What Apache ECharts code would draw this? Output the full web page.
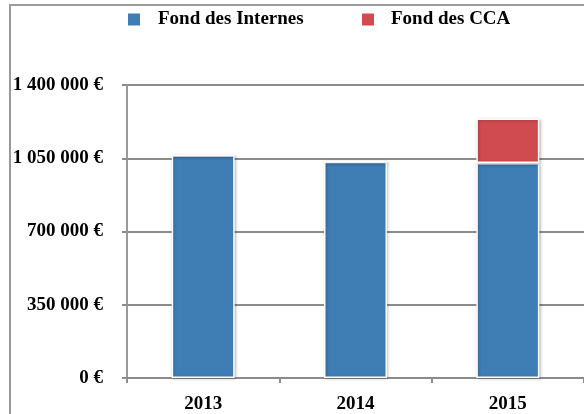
<!DOCTYPE html>
<html>
<head>
<meta charset="utf-8">
<script src="https://cdn.jsdelivr.net/npm/echarts@6/dist/echarts.min.js"></script>
<style>
html,body{margin:0;padding:0;background:#fff;}
#chart{width:584px;height:414px;}
</style>
</head>
<body>
<div id="chart"></div>
<script>
const categories = ['2013', '2014', '2015'];
const fondInternes = [1064000, 1033000, 1027000];
const fondCCA = [0, 0, 213000];
const seriesNames = ['Fond des Internes', 'Fond des CCA'];
const yTicks = [0, 350000, 700000, 1050000, 1400000];

function fmt(v) {
  return String(v).replace(/\B(?=(\d{3})+(?!\d))/g, ' ') + ' €';
}

const font = 'Liberation Serif, Times New Roman, serif';
const fs = 19;
const chart = echarts.init(document.getElementById('chart'), null, {renderer: 'canvas'});
const barStyle = (c) => ({
  color: c,
  borderColor: '#ffffff',
  borderWidth: 1.5,
  shadowBlur: 3,
  shadowOffsetX: 1,
  shadowOffsetY: 1,
  shadowColor: 'rgba(0,0,0,0.25)'
});
chart.setOption({
  animation: false,
  backgroundColor: '#fff',
  graphic: [{
    type: 'rect',
    shape: {x: 10, y: 5, width: 620, height: 460},
    style: {fill: 'none', stroke: '#9a9a9a', lineWidth: 2},
    silent: true
  }],
  legend: [{
    data: [seriesNames[0]],
    left: 126, top: 10, padding: 0,
    icon: 'rect', itemWidth: 14, itemHeight: 14,
    textStyle: {fontFamily: font, fontWeight: 'bold', fontSize: fs, color: '#000', padding: [0, 0, 0, 12]}
  }, {
    data: [seriesNames[1]],
    left: 360, top: 10, padding: 0,
    icon: 'rect', itemWidth: 14, itemHeight: 14,
    textStyle: {fontFamily: font, fontWeight: 'bold', fontSize: fs, color: '#000', padding: [0, 0, 0, 11]}
  }],
  grid: {left: 127, top: 85, width: 465, height: 296, containLabel: false},
  xAxis: {
    type: 'category',
    data: categories,
    boundaryGap: true,
    axisLine: {show: true, lineStyle: {color: '#8c8c8c', width: 2}},
    axisTick: {show: true, length: 5, lineStyle: {color: '#8c8c8c', width: 2}},
    axisLabel: {fontFamily: font, fontWeight: 'bold', fontSize: fs, color: '#000', margin: 17}
  },
  yAxis: {
    type: 'value',
    min: yTicks[0],
    max: yTicks[yTicks.length - 1],
    interval: yTicks[1] - yTicks[0],
    axisLine: {show: true, lineStyle: {color: '#9a9a9a', width: 2}},
    axisTick: {show: true, length: 5, lineStyle: {color: '#8c8c8c', width: 2}},
    splitLine: {show: true, lineStyle: {color: '#8c8c8c', width: 2}},
    axisLabel: {fontFamily: font, fontWeight: 'bold', fontSize: fs, color: '#000', margin: 24, formatter: fmt}
  },
  series: [{
    name: seriesNames[0],
    type: 'bar',
    stack: 'total',
    barWidth: 63,
    data: fondInternes,
    itemStyle: barStyle('#3f7db5')
  }, {
    name: seriesNames[1],
    type: 'bar',
    stack: 'total',
    barWidth: 63,
    data: fondCCA,
    itemStyle: barStyle('#d04b50')
  }]
});
</script>
</body>
</html>
